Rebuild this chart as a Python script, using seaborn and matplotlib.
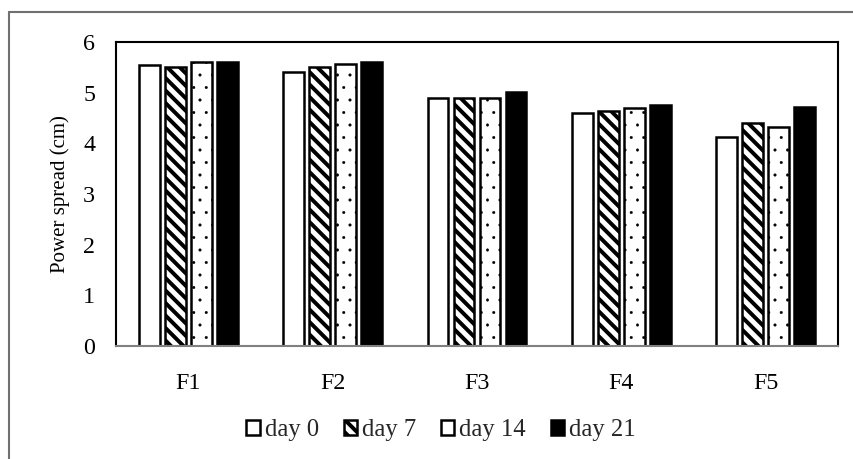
import numpy as np
import pandas as pd
import matplotlib
matplotlib.use("Agg")
import matplotlib.pyplot as plt
import seaborn as sns
from matplotlib.lines import Line2D

# Powder spread (cm) of each formulation over the storage period
formulations = ["F1", "F2", "F3", "F4", "F5"]
days = ["day 0", "day 7", "day 14", "day 21"]
day0 = [5.55, 5.41, 4.89, 4.60, 4.12]
day7 = [5.50, 5.50, 4.89, 4.64, 4.41]
day14 = [5.60, 5.57, 4.90, 4.70, 4.33]
day21 = [5.60, 5.60, 5.02, 4.76, 4.71]
yticks = [0, 1, 2, 3, 4, 5, 6]

df = pd.DataFrame({
    "Formulation": formulations * len(days),
    "Day": np.repeat(days, len(formulations)),
    "Spread": day0 + day7 + day14 + day21,
})

sns.set_theme(style="white")
plt.rcParams["font.family"] = ["Liberation Serif", "DejaVu Serif"]
plt.rcParams["hatch.linewidth"] = 1.9
plt.rcParams["hatch.color"] = "black"

DPI = 150
W, H = 853, 459
fig = plt.figure(figsize=(W / DPI, H / DPI), dpi=DPI)
fig.patch.set_facecolor("white")
ax = fig.add_axes([116 / W, 1 - 346 / H, (838 - 116) / W, (346 - 42) / H])

fills = ["white", "white", "white", "black"]
hatches = ["", "\\" * 4, "..", ""]
hatch_widths = [1.0, 1.9, 0.2, 1.0]

sns.barplot(data=df, x="Formulation", y="Spread", hue="Day",
            order=formulations, hue_order=days,
            palette=dict(zip(days, fills)), saturation=1,
            width=0.72, gap=0.2, edgecolor="black", linewidth=1.2,
            legend=False, ax=ax)

for container, h, hw in zip(ax.containers, hatches, hatch_widths):
    for bar in container:
        bar.set_hatch(h)
        bar.set_edgecolor("black")
        if hasattr(bar, "set_hatch_linewidth"):
            bar.set_hatch_linewidth(hw)

ax.set_ylim(0, 6)
ax.set_yticks(yticks)
ax.set_xlabel("")
ax.set_ylabel("Power spread (cm)", fontsize=10, color="black")
ax.yaxis.set_label_coords(-0.0637, 0.5)
ax.tick_params(axis="y", length=0, pad=10, labelsize=11.5, labelcolor="black")
ax.tick_params(axis="x", length=0, pad=13, labelsize=11.5, labelcolor="black")
for side in ["top", "right", "left"]:
    ax.spines[side].set_color("black")
    ax.spines[side].set_linewidth(1.0)
ax.spines["bottom"].set_color("#808080")
ax.spines["bottom"].set_linewidth(1.0)

handles = [c[0] for c in ax.containers]
leg = fig.legend(handles=handles, labels=days, loc="center",
                 bbox_to_anchor=(441 / W, 1 - 430 / H), ncol=4, frameon=False,
                 fontsize=11.8, handlelength=0.55, handleheight=0.55,
                 handletextpad=0.2, columnspacing=1.0, borderaxespad=0)
# the dotted key is too small to show its dots
leg.legend_handles[2].set_hatch("")

# Outer frame around the chart area (left and top edges fall inside the image)
x0, y0 = 8.5 / W, 1 - 12 / H
frame_kw = dict(transform=fig.transFigure, color="#707070", linewidth=1.0)
fig.add_artist(Line2D([x0, 1.0], [y0, y0], **frame_kw))
fig.add_artist(Line2D([x0, x0], [0.0, y0], **frame_kw))

fig.savefig("out.png", dpi=DPI)
